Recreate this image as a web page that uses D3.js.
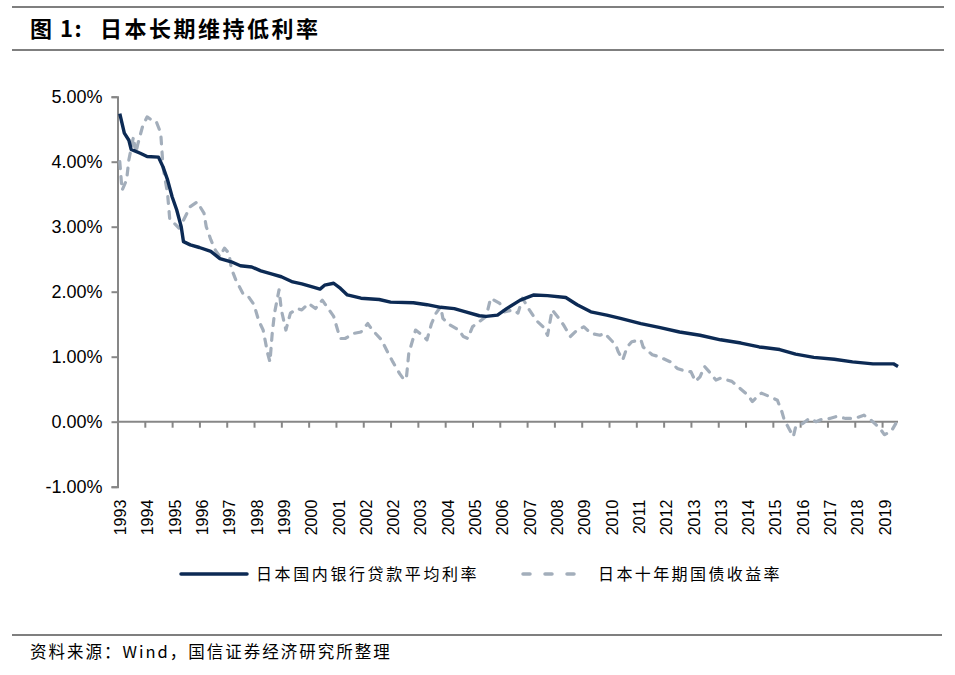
<!DOCTYPE html>
<html lang="zh">
<head>
<meta charset="UTF-8">
<title>日本长期维持低利率</title>
<script src="https://d3js.org/d3.v7.min.js"></script>
<style>
    body { margin: 0; background: #fff; }
    svg { display: block; }
    .cn { font-family: "Noto Sans CJK SC", sans-serif; }
    .num { font-family: "Liberation Sans", Arial, sans-serif; }
</style>
</head>
<body>
<svg width="955" height="675"></svg>
<script>
    // x labels (one per 12 observations, as in the source sheet)
    const xLabels = ["1993", "1994", "1995", "1996", "1997", "1998", "1999", "2000", "2001", "2002",
        "2002", "2003", "2004", "2005", "2006", "2007", "2008", "2009", "2010", "2011",
        "2012", "2013", "2013", "2014", "2015", "2016", "2017", "2018", "2019"];
    const nObs = 344;
    const yTicks = [-1, 0, 1, 2, 3, 4, 5];

    // 日本国内银行贷款平均利率 (observation index, %)
    const loanIdx = [1, 3, 5, 6, 10, 13, 18, 20, 22, 24, 26, 28, 29, 32, 36, 41, 45, 50, 54, 59,
        63, 68, 72, 77, 81, 86, 89, 91, 95, 98, 101, 107, 115, 120, 130, 136, 142, 148, 153, 159,
        162, 167, 171, 177, 183, 189, 197, 202, 208, 215, 221, 230, 238, 247, 256, 265, 274, 282, 291, 298,
        306, 315, 323, 332, 341, 343];
    const loanVal = [4.74, 4.44, 4.33, 4.19, 4.13, 4.08, 4.07, 3.92, 3.72, 3.46, 3.26, 3.00, 2.77, 2.72, 2.68, 2.62, 2.51, 2.46, 2.40, 2.38,
        2.32, 2.27, 2.23, 2.15, 2.12, 2.07, 2.04, 2.10, 2.13, 2.05, 1.95, 1.90, 1.88, 1.84, 1.83, 1.80, 1.76, 1.74, 1.69, 1.63,
        1.62, 1.64, 1.74, 1.87, 1.95, 1.94, 1.91, 1.80, 1.69, 1.64, 1.59, 1.51, 1.45, 1.38, 1.33, 1.26, 1.21, 1.15, 1.11, 1.04,
        0.99, 0.96, 0.92, 0.89, 0.89, 0.85];

    // 日本十年期国债收益率 (observation index, %)
    const bondIdx = [1, 2, 4, 5, 7, 8, 9, 11, 13, 15, 17, 19, 20, 22, 23, 25, 27, 29, 32, 35,
        38, 39, 41, 43, 45, 47, 49, 50, 52, 55, 57, 60, 62, 64, 66, 67, 68, 69, 71, 72,
        74, 76, 79, 81, 84, 87, 90, 93, 95, 97, 98, 100, 104, 107, 110, 112, 116, 119, 121, 124,
        126, 127, 128, 131, 134, 136, 138, 140, 142, 143, 146, 150, 152, 154, 156, 159, 162, 164, 168, 170,
        174, 176, 178, 181, 184, 187, 189, 191, 194, 196, 199, 202, 205, 208, 212, 214, 219, 220, 222, 224,
        226, 230, 231, 235, 238, 243, 246, 250, 252, 254, 256, 258, 260, 263, 265, 270, 273, 277, 279, 281,
        283, 287, 290, 292, 293, 295, 297, 298, 301, 304, 307, 309, 313, 316, 320, 324, 328, 331, 335, 337,
        340, 342];
    const bondVal = [4.00, 3.56, 3.72, 4.03, 4.38, 4.13, 4.28, 4.54, 4.69, 4.64, 4.62, 4.44, 3.92, 3.51, 3.10, 3.05, 2.98, 3.10, 3.31, 3.38,
        3.21, 3.00, 2.80, 2.64, 2.54, 2.67, 2.59, 2.36, 2.18, 1.98, 1.95, 1.80, 1.56, 1.41, 1.05, 0.92, 1.36, 1.67, 2.03, 1.72,
        1.41, 1.67, 1.74, 1.72, 1.82, 1.74, 1.87, 1.72, 1.62, 1.38, 1.28, 1.28, 1.36, 1.38, 1.51, 1.41, 1.26, 1.05, 0.92, 0.74,
        0.64, 0.69, 1.05, 1.41, 1.33, 1.26, 1.51, 1.67, 1.77, 1.59, 1.49, 1.41, 1.31, 1.28, 1.46, 1.54, 1.62, 1.90, 1.82, 1.69,
        1.72, 1.67, 1.90, 1.72, 1.56, 1.46, 1.33, 1.72, 1.59, 1.49, 1.31, 1.41, 1.46, 1.36, 1.33, 1.36, 1.18, 1.08, 0.95, 1.15,
        1.23, 1.26, 1.15, 1.03, 1.00, 0.92, 0.82, 0.77, 0.77, 0.62, 0.69, 0.85, 0.77, 0.64, 0.67, 0.62, 0.53, 0.41, 0.31, 0.38,
        0.44, 0.38, 0.33, 0.15, 0.03, -0.10, -0.23, -0.08, -0.03, 0.05, 0.00, 0.03, 0.05, 0.08, 0.05, 0.05, 0.10, 0.03, -0.10, -0.20,
        -0.15, -0.03];

    const seriesNames = ["日本国内银行贷款平均利率", "日本十年期国债收益率"];
    const loanColor = "#0c2a54", bondColor = "#a3aebb", axisColor = "#878787";

    const svg = d3.select("svg");

    // header / footer rules
    svg.append("line").attr("x1", 12).attr("x2", 944).attr("y1", 7).attr("y2", 7)
        .attr("stroke", "#000").attr("stroke-width", 1.2);
    svg.append("line").attr("x1", 12).attr("x2", 944).attr("y1", 50).attr("y2", 50)
        .attr("stroke", "#000").attr("stroke-width", 1.2);
    svg.append("line").attr("x1", 12).attr("x2", 942).attr("y1", 635).attr("y2", 635)
        .attr("stroke", "#000").attr("stroke-width", 1.2);

    svg.append("text").attr("class", "cn").attr("x", 30).attr("y", 37)
        .attr("font-size", 22).attr("font-weight", "bold").attr("letter-spacing", 1.5).text("图 1:");
    svg.append("text").attr("class", "cn").attr("x", 100).attr("y", 37)
        .attr("font-size", 22).attr("font-weight", "bold").attr("letter-spacing", 2.5)
        .text("日本长期维持低利率");
    svg.append("text").attr("class", "cn").attr("x", 30).attr("y", 658)
        .attr("font-size", 16.5).attr("letter-spacing", 2).text("资料来源：Wind，国信证券经济研究所整理");

    // scales
    const x = d3.scaleLinear().domain([0, nObs - 1]).range([117.5, 898]);
    const y = d3.scaleLinear().domain([-1, 5]).range([486.7, 96.7]);

    // y axis
    const yAxis = svg.append("g").attr("transform", `translate(${x(0)},0)`)
        .call(d3.axisLeft(y).tickValues(yTicks).tickSize(6).tickPadding(9)
            .tickFormat(d => d.toFixed(2) + "%"));
    yAxis.select(".domain").attr("stroke", axisColor).attr("stroke-width", 2);
    yAxis.selectAll(".tick line").attr("stroke", axisColor).attr("stroke-width", 2);
    yAxis.selectAll(".tick text").attr("class", "num").attr("font-size", 18)
        .attr("fill", "#000");

    // x axis at 0%, labels pushed below the plot
    const tickIdx = xLabels.map((d, i) => i * 12);
    const xAxis = svg.append("g").attr("transform", `translate(0,${y(0)})`)
        .call(d3.axisBottom(x).tickValues(tickIdx.slice(1)).tickSize(6).tickFormat(""));
    xAxis.select(".domain").attr("stroke", axisColor).attr("stroke-width", 2)
        .attr("d", `M${x(0)},0H${x(nObs - 1)}`);
    xAxis.selectAll(".tick line").attr("stroke", axisColor).attr("stroke-width", 2);

    svg.append("g").selectAll("text").data(xLabels).join("text")
        .attr("class", "num").attr("font-size", 16)
        .attr("transform", (d, i) => `translate(${x(tickIdx[i]) + 3},${y(-1) + 13}) rotate(-90)`)
        .attr("text-anchor", "end").attr("dy", "0.35em")
        .text(d => d);

    // lines
    const line = d3.line().x(d => x(d[0])).y(d => y(d[1]));
    const loan = loanIdx.map((d, i) => [d, loanVal[i]]);
    const bond = bondIdx.map((d, i) => [d, bondVal[i]]);

    svg.append("path").datum(bond).attr("d", line)
        .attr("fill", "none").attr("stroke", bondColor).attr("stroke-width", 3.2)
        .attr("stroke-dasharray", "7,8").attr("stroke-linecap", "round")
        .attr("stroke-linejoin", "round");
    svg.append("path").datum(loan).attr("d", line)
        .attr("fill", "none").attr("stroke", loanColor).attr("stroke-width", 3.4)
        .attr("stroke-linejoin", "round");

    // legend
    const leg = svg.append("g");
    leg.append("line").attr("x1", 181).attr("x2", 247).attr("y1", 574).attr("y2", 574)
        .attr("stroke", loanColor).attr("stroke-width", 3.5).attr("stroke-linecap", "round");
    leg.append("text").attr("class", "cn").attr("x", 256).attr("y", 580)
        .attr("font-size", 16).attr("letter-spacing", 2.6).text(seriesNames[0]);
    leg.append("line").attr("x1", 523).attr("x2", 576).attr("y1", 574).attr("y2", 574)
        .attr("stroke", bondColor).attr("stroke-width", 3.5).attr("stroke-linecap", "round")
        .attr("stroke-dasharray", "7,15");
    leg.append("text").attr("class", "cn").attr("x", 598).attr("y", 580)
        .attr("font-size", 16).attr("letter-spacing", 2.4).text(seriesNames[1]);
</script>
</body>
</html>
